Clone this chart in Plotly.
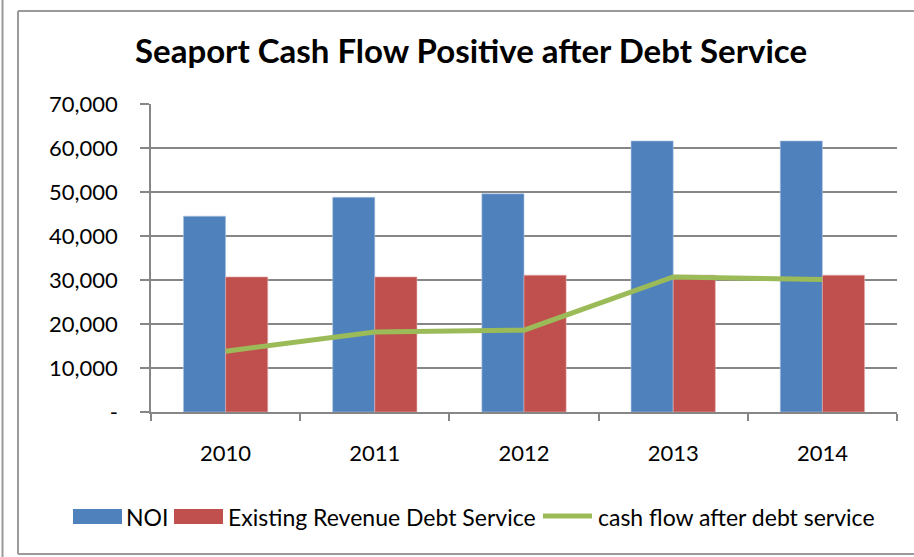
import plotly.graph_objects as go

years = ["2010", "2011", "2012", "2013", "2014"]
noi = [44500, 48800, 49600, 61600, 61600]
debt_service = [30700, 30700, 31100, 31100, 31100]
cash_flow = [13800, 18200, 18600, 30700, 30100]

y_tickvals = [0, 10000, 20000, 30000, 40000, 50000, 60000, 70000]
y_ticktext = ["-", "10,000", "20,000", "30,000", "40,000", "50,000", "60,000", "70,000"]

FONT = "Lato"
BLUE, RED, GREEN = "#4F81BD", "#C0504D", "#9BBB59"
FRAME = "#9A9A9A"

# plot area in pixels (for converting decoration positions to paper coords)
L, R, T, B = 151, 897, 104, 412
def px(x):
    return (x - L) / (R - L)
def py(y):
    return (B - y) / (B - T)

fig = go.Figure()
fig.add_trace(go.Bar(x=years, y=noi, name="NOI",
                     marker=dict(color=BLUE, line=dict(color="#AFC6E3", width=0.6))))
fig.add_trace(go.Bar(x=years, y=debt_service, name="Existing Revenue Debt Service",
                     marker=dict(color=RED, line=dict(color="#E3B0AE", width=0.6))))
fig.add_trace(go.Scatter(x=years, y=cash_flow, name="cash flow after debt service", mode="lines",
                         line=dict(color=GREEN, width=5)))

shapes = [
    # chart frame
    dict(type="line", xref="paper", yref="paper", x0=px(18), x1=px(18), y0=py(11), y1=py(554),
         line=dict(color=FRAME, width=2)),
    dict(type="line", xref="paper", yref="paper", x0=px(18), x1=px(916), y0=py(11), y1=py(11),
         line=dict(color=FRAME, width=2)),
    dict(type="line", xref="paper", yref="paper", x0=px(18), x1=px(916), y0=py(554), y1=py(554),
         line=dict(color=FRAME, width=2)),
    dict(type="line", xref="paper", yref="paper", x0=px(2.5), x1=px(2.5), y0=py(-2), y1=py(560),
         line=dict(color=FRAME, width=2)),
    # legend keys
    dict(type="rect", xref="paper", yref="paper", x0=px(73), x1=px(122), y0=py(509), y1=py(524),
         fillcolor=BLUE, line=dict(width=0)),
    dict(type="rect", xref="paper", yref="paper", x0=px(174), x1=px(223), y0=py(509), y1=py(524),
         fillcolor=RED, line=dict(width=0)),
    dict(type="line", xref="paper", yref="paper", x0=px(543), x1=px(592), y0=py(516), y1=py(516),
         line=dict(color=GREEN, width=5)),
]

legend_items = [(fig.data[0].name, 124), (fig.data[1].name, 226), (fig.data[2].name, 596)]
annotations = [
    dict(text=name, xref="paper", yref="paper", x=px(xl), y=py(517), xanchor="left", yanchor="middle",
         showarrow=False, font=dict(family=FONT, size=23, color="black"))
    for name, xl in legend_items
]

fig.update_layout(
    width=914, height=557,
    margin=dict(l=L, r=914 - R, t=T, b=557 - B),
    paper_bgcolor="white", plot_bgcolor="white",
    barmode="group", bargap=0.435, bargroupgap=0,
    title=dict(text="<b>Seaport Cash Flow Positive after Debt Service</b>", x=px(471), xref="paper",
               xanchor="center", y=1 - 51 / 557, yanchor="middle",
               font=dict(family=FONT, size=33, color="black")),
    font=dict(family=FONT, size=22, color="black"),
    showlegend=False,
    xaxis=dict(type="category", showgrid=False, showline=True, linecolor="#868686", linewidth=1.5,
               ticks="outside", ticklen=7, tickcolor="#868686", tickwidth=1.5, tickson="boundaries",
               tickfont=dict(size=22), ticklabelstandoff=21),
    yaxis=dict(range=[0, 70000], tickvals=y_tickvals, ticktext=y_ticktext, showgrid=True,
               gridcolor="#868686", gridwidth=1.5, showline=True, linecolor="#868686", linewidth=1.5,
               ticks="outside", ticklen=9, tickcolor="#868686", tickwidth=1.5, zeroline=False,
               tickfont=dict(size=22), ticklabelstandoff=18),
    shapes=shapes,
    annotations=annotations,
)

fig.write_html("out.html")
